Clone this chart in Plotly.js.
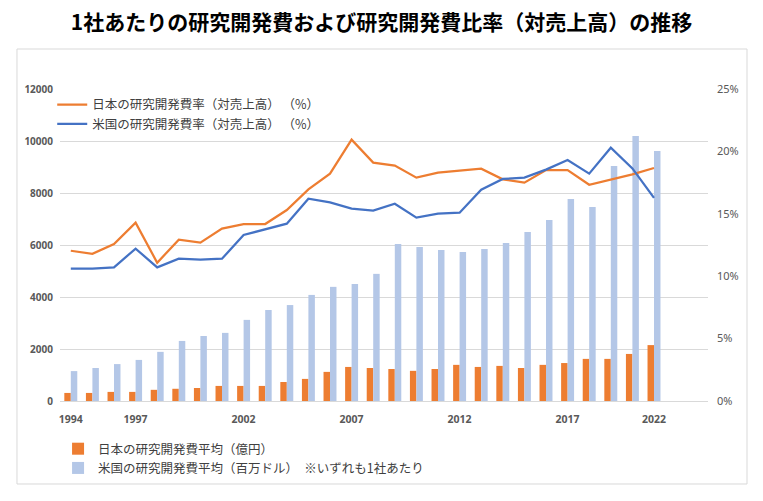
<!DOCTYPE html>
<html>
<head>
<meta charset="utf-8">
<script src="https://cdn.plot.ly/plotly-3.0.1.min.js"></script>
<style>
html,body{margin:0;padding:0;background:#fff;}
#chart{width:763px;height:501px;}
</style>
</head>
<body>
<div id="chart"></div>
<script>
// Categories (years)
const years = ['1994','1995','1996','1997','1998','1999','2000','2001','2002','2003',
  '2004','2005','2006','2007','2008','2009','2010','2011','2012','2013',
  '2014','2015','2016','2017','2018','2019','2021','2022'];
const tickYears = ['1994','1997','2002','2007','2012','2017','2022'];

// 日本の研究開発費平均（億円）
const japanRnD = [310,310,350,350,430,470,500,580,580,580,
  730,850,1120,1310,1270,1230,1160,1230,1390,1310,
  1350,1270,1390,1460,1620,1620,1810,2150];
// 米国の研究開発費平均（百万ドル）
const usRnD = [1150,1270,1420,1580,1890,2310,2500,2620,3120,3500,
  3690,4080,4390,4500,4890,6040,5920,5810,5730,5850,
  6080,6500,6960,7770,7460,9040,10190,9620];
// 日本の研究開発費率（対売上高）（%）
const japanRatio = [12.04,11.80,12.58,14.29,11.08,12.93,12.69,13.81,14.18,14.18,
  15.30,16.96,18.22,20.94,19.10,18.86,17.90,18.30,18.46,18.62,
  17.76,17.50,18.51,18.51,17.33,17.76,18.16,18.67];
// 米国の研究開発費率（対売上高）（%）
const usRatio = [10.60,10.60,10.71,12.21,10.71,11.40,11.32,11.40,13.30,13.78,
  14.21,16.21,15.92,15.41,15.25,15.81,14.69,15.01,15.09,16.93,
  17.79,17.90,18.54,19.31,18.22,20.30,18.64,16.27];

const names = {
  jpBar: '日本の研究開発費平均（億円）',
  usBar: '米国の研究開発費平均（百万ドル）　※いずれも1社あたり',
  jpLine: '日本の研究開発費率（対売上高） （%）',
  usLine: '米国の研究開発費率（対売上高） （%）'
};

const cjk = '"Noto Sans CJK JP", "Noto Sans", sans-serif';
const numFont = '"Noto Sans", "Noto Sans CJK JP", sans-serif';

const traces = [
  {type:'bar', x:years, y:japanRnD, name:names.jpBar, marker:{color:'#ed7d31'}, legend:'legend2', yaxis:'y'},
  {type:'bar', x:years, y:usRnD, name:names.usBar, marker:{color:'#b4c7e7'}, legend:'legend2', yaxis:'y'},
  {type:'scatter', mode:'lines', x:years, y:japanRatio, name:names.jpLine, line:{color:'#ed7d31', width:2.25}, yaxis:'y2', legend:'legend'},
  {type:'scatter', mode:'lines', x:years, y:usRatio, name:names.usLine, line:{color:'#4472c4', width:2.25}, yaxis:'y2', legend:'legend'}
];

const layout = {
  width:763, height:501,
  margin:{l:60, r:55, t:89, b:100},
  paper_bgcolor:'#ffffff', plot_bgcolor:'#ffffff',
  font:{family:cjk, color:'#404040'},
  title:{text:'1社あたりの研究開発費および研究開発費比率（対売上高）の推移',
    font:{family:cjk, size:21, color:'#000000', weight:'bold'},
    x:0.5, xanchor:'center', y:0.954, yanchor:'middle', yref:'container'},
  barmode:'group', bargap:0.4, bargroupgap:0,
  xaxis:{type:'category', categoryorder:'array', categoryarray:years,
    range:[-0.5, 29.5], tickmode:'array', tickvals:tickYears, ticktext:tickYears,
    showgrid:false, zeroline:false, showline:false, ticks:'', ticklabelstandoff:10,
    tickfont:{family:numFont, size:10.5, color:'#595959', weight:'bold'}},
  yaxis:{range:[0,12000], dtick:2000, showgrid:true, gridcolor:'#d9d9d9', gridwidth:1,
    zeroline:true, zerolinecolor:'#d9d9d9', zerolinewidth:1, showline:false, ticks:'',
    tickformat:'d', ticklabelstandoff:6,
    tickfont:{family:numFont, size:10, color:'#595959', weight:'bold'}},
  yaxis2:{overlaying:'y', side:'right', range:[0,25], dtick:5, ticksuffix:'%',
    showgrid:false, zeroline:false, showline:false, ticks:'', ticklabelstandoff:8,
    tickfont:{family:numFont, size:11, color:'#595959'}},
  legend:{x:-0.012, xanchor:'left', y:0.997, yanchor:'top', bgcolor:'rgba(0,0,0,0)',
    font:{family:cjk, size:12.5, color:'#404040'}, tracegroupgap:0, traceorder:'normal'},
  legend2:{x:-0.003, xanchor:'left', y:-0.106, yanchor:'top', bgcolor:'rgba(0,0,0,0)',
    font:{family:cjk, size:12.5, color:'#404040'}, tracegroupgap:0, traceorder:'normal'},
  shapes:[{type:'rect', xref:'paper', yref:'paper', x0:-0.0664, x1:1.0602, y0:-0.266, y1:1.1282,
    line:{color:'#d9d9d9', width:1}, fillcolor:'rgba(0,0,0,0)', layer:'below'}],
  hovermode:false
};

Plotly.newPlot('chart', traces, layout, {staticPlot:true, displayModeBar:false});
</script>
</body>
</html>
